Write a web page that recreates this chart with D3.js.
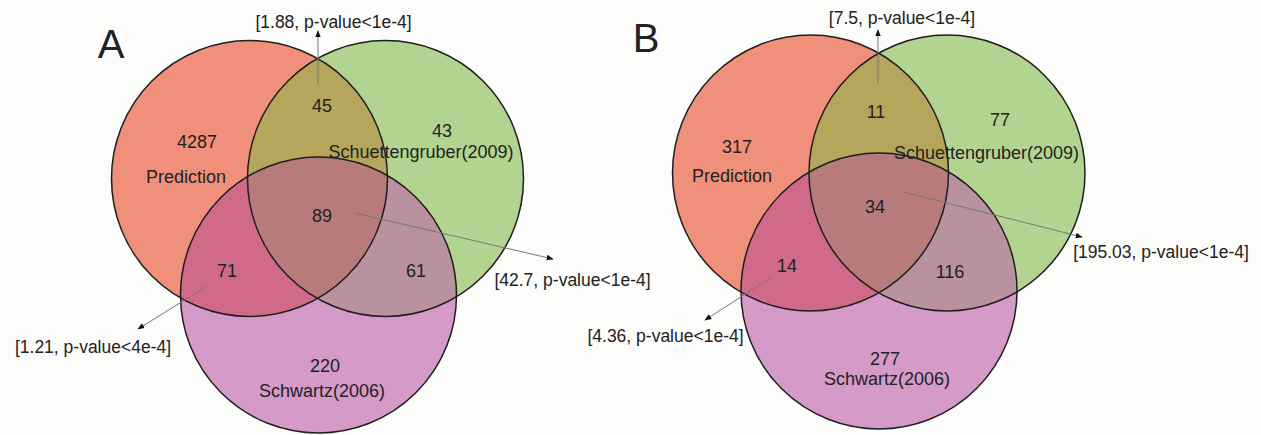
<!DOCTYPE html>
<html>
<head>
<meta charset="utf-8">
<script src="https://cdn.jsdelivr.net/npm/d3@7"></script>
<style>
  html, body { margin: 0; padding: 0; background: #fcfcfa; }
  svg { display: block; }
  text { font-family: "Liberation Sans", Arial, sans-serif; fill: #222; }
</style>
</head>
<body>
<svg id="chart" width="1261" height="435"></svg>
<script>
// Three gene sets compared in two panels
const panelIds = ["A", "B"];
const setNames = ["Prediction", "Schuettengruber(2009)", "Schwartz(2006)"];

// Region counts per panel: [P only, S only, W only, P∩S, P∩W, S∩W, P∩S∩W]
const countsA = [4287, 43, 220, 45, 71, 61, 89];
const countsB = [317, 77, 277, 11, 14, 116, 34];

// Enrichment annotations: [fold, p-value bound] for P∩S, P∩W, triple
const enrichA = [["1.88", "1e-4"], ["1.21", "4e-4"], ["42.7", "1e-4"]];
const enrichB = [["7.5", "1e-4"], ["4.36", "1e-4"], ["195.03", "1e-4"]];

const svg = d3.select("#chart");
const R = 138;

// Layout of each panel (circle centres and label anchors)
const layouts = [
  {
    id: panelIds[0], counts: countsA, enrich: enrichA,
    letter: [111, 58],
    centers: [[249.5, 178.5], [385.5, 178.5], [318.5, 295]],
    countPos: [[197, 148], [442, 137], [325, 372], [322, 112], [227, 277], [416, 277], [322, 222]],
    namePos: [[186, 183], [421, 158], [322, 397]],
    arrows: [
      { from: [318, 84], to: [318, 31], text: [333.5, 28] },
      { from: [207, 286], to: [138, 329], text: [93, 353] },
      { from: [355, 213], to: [553, 259], text: [572.5, 286] }
    ]
  },
  {
    id: panelIds[1], counts: countsB, enrich: enrichB,
    letter: [646, 52],
    centers: [[810.5, 173], [947, 173], [879, 291]],
    countPos: [[737, 153], [1000, 126], [885, 365], [876, 118], [787, 272], [950, 278], [875, 213]],
    namePos: [[732, 182], [986.5, 159], [887, 385]],
    arrows: [
      { from: [878, 83], to: [878, 30], text: [902, 24] },
      { from: [772, 277], to: [705, 320], text: [665.5, 342] },
      { from: [903, 192], to: [1082, 237], text: [1161, 258] }
    ]
  }
];

// Fill colours for each region (single sets, pairwise, triple)
const setColors = ["#f0907a", "#b2d490", "#d59ac8"];
const pairColors = { "01": "#b5a65c", "02": "#d06a88", "12": "#b9929f" };
const tripleColor = "#b87b7c";

const defs = svg.append("defs");

defs.append("marker")
  .attr("id", "head")
  .attr("viewBox", "0 0 10 10")
  .attr("refX", 9).attr("refY", 5)
  .attr("markerWidth", 7).attr("markerHeight", 7)
  .attr("markerUnits", "userSpaceOnUse")
  .attr("orient", "auto")
  .append("path")
  .attr("d", "M0,1 L10,5 L0,9 Z")
  .attr("fill", "#111");

layouts.forEach((L, pi) => {
  const g = svg.append("g");

  // clip paths for each circle
  L.centers.forEach((c, i) => {
    defs.append("clipPath").attr("id", `clip-${pi}-${i}`)
      .append("circle").attr("cx", c[0]).attr("cy", c[1]).attr("r", R);
  });

  // single-set fills
  L.centers.forEach((c, i) => {
    g.append("circle").attr("cx", c[0]).attr("cy", c[1]).attr("r", R)
      .attr("fill", setColors[i]);
  });

  // pairwise overlaps
  [[0, 1], [0, 2], [1, 2]].forEach(([a, b]) => {
    const c = L.centers[b];
    g.append("g").attr("clip-path", `url(#clip-${pi}-${a})`)
      .append("circle").attr("cx", c[0]).attr("cy", c[1]).attr("r", R)
      .attr("fill", pairColors[`${a}${b}`]);
  });

  // triple overlap
  const c2 = L.centers[2];
  g.append("g").attr("clip-path", `url(#clip-${pi}-0)`)
    .append("g").attr("clip-path", `url(#clip-${pi}-1)`)
    .append("circle").attr("cx", c2[0]).attr("cy", c2[1]).attr("r", R)
    .attr("fill", tripleColor);

  // outlines
  L.centers.forEach(c => {
    g.append("circle").attr("cx", c[0]).attr("cy", c[1]).attr("r", R)
      .attr("fill", "none").attr("stroke", "#1e1e1e").attr("stroke-width", 1.5);
  });

  // panel letter
  g.append("text").attr("x", L.letter[0]).attr("y", L.letter[1])
    .attr("text-anchor", "middle").attr("font-size", 40).text(L.id);

  // region counts
  L.counts.forEach((v, i) => {
    g.append("text").attr("x", L.countPos[i][0]).attr("y", L.countPos[i][1])
      .attr("text-anchor", "middle").attr("font-size", 18).text(v);
  });

  // set names
  setNames.forEach((n, i) => {
    g.append("text").attr("x", L.namePos[i][0]).attr("y", L.namePos[i][1])
      .attr("text-anchor", "middle").attr("font-size", 18).text(n);
  });

  // enrichment arrows and labels
  L.arrows.forEach((a, i) => {
    g.append("line")
      .attr("x1", a.from[0]).attr("y1", a.from[1])
      .attr("x2", a.to[0]).attr("y2", a.to[1])
      .attr("stroke", "#777").attr("stroke-width", 1)
      .attr("marker-end", "url(#head)");
    const [fold, p] = L.enrich[i];
    g.append("text").attr("x", a.text[0]).attr("y", a.text[1])
      .attr("text-anchor", "middle").attr("font-size", 17.5)
      .text(`[${fold}, p-value<${p}]`);
  });
});
</script>
</body>
</html>
